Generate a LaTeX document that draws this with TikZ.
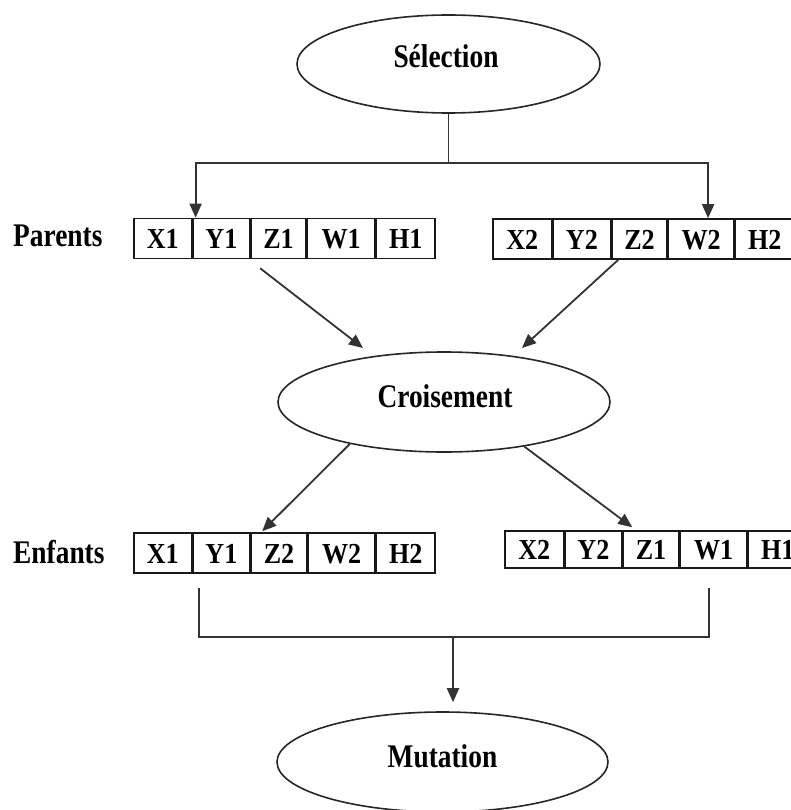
\documentclass[tikz,border=0pt]{standalone}
\usepackage{fontspec}
\setmainfont{Liberation Serif}
\newfontfamily\lblfont{Liberation Serif}[FakeStretch=0.83]
\newfontfamily\cellfont{Liberation Serif}[FakeStretch=0.9]
\usetikzlibrary{shapes.geometric,arrows.meta}
\begin{document}
\begin{tikzpicture}[x=1pt,y=-1pt,
  ln/.style={line width=1.8pt, draw=black!80},
  arr/.style={ln, -{Triangle[length=14pt,width=12pt]}},
  ell/.style={ellipse, draw=black!85, line width=1.6pt, inner sep=0pt},
  ttl/.style={font=\lblfont\bfseries\fontsize{33}{36}\selectfont, anchor=base, inner sep=0pt},
  side/.style={ttl, anchor=base west},
  cell/.style={draw=black!90, line width=1.6pt, rectangle, minimum width=#1, minimum height=40pt,
    inner sep=0pt, anchor=west, font=\cellfont\bfseries\fontsize{29}{32}\selectfont, text height=20pt, text depth=0pt},
  cellb/.style={cell=#1, minimum height=37pt},
]
\useasboundingbox (0,0) rectangle (790,810);

% ellipses
\node[ell, minimum width=303pt, minimum height=98pt] (sel) at (448.5,64) {};
\node[ttl] (selt) at (446,68) {Sélection};
\node[ell, minimum width=332pt, minimum height=100pt] (cro) at (444,402) {};
\node[ttl] (crot) at (445,407) {Croisement};
\node[ell, minimum width=331pt, minimum height=100pt] (mut) at (442.5,762) {};
\node[ttl] (mutt) at (442.5,767) {Mutation};

% side labels
\node[side] (par) at (13,247) {Parents};
\node[side] (enf) at (13,563) {Enfants};

% parents left
\node[cell=58pt] (pa1) at (133,238.5) {X1};
\node[cell=56pt] (pa2) at (pa1.east) {Y1};
\node[cell=55pt] (pa3) at (pa2.east) {Z1};
\node[cell=67pt] (pa4) at (pa3.east) {W1};
\node[cell=59pt] (pa5) at (pa4.east) {H1};
% parents right
\node[cell=59pt] (pb1) at (492,239) {X2};
\node[cell=57pt] (pb2) at (pb1.east) {Y2};
\node[cell=55pt] (pb3) at (pb2.east) {Z2};
\node[cell=65pt] (pb4) at (pb3.east) {W2};
\node[cell=59pt] (pb5) at (pb4.east) {H2};
% children left
\node[cell=58pt] (pe1) at (133,553) {X1};
\node[cell=56pt] (pe2) at (pe1.east) {Y1};
\node[cell=56pt] (pe3) at (pe2.east) {Z2};
\node[cell=66pt] (pe4) at (pe3.east) {W2};
\node[cell=59pt] (pe5) at (pe4.east) {H2};
% children right
\node[cellb=59pt] (pf1) at (504,549.5) {X2};
\node[cellb=56pt] (pf2) at (pf1.east) {Y2};
\node[cellb=56pt] (pf3) at (pf2.east) {Z1};
\node[cellb=66pt] (pf4) at (pf3.east) {W1};
\node[cellb=59pt] (pf5) at (pf4.east) {H1};

% selection to parents
\draw[ln] (sel.south) -- ++(0,49) coordinate (j1);
\draw[arr] (j1) -| ([xshift=3pt]pa2.north west);
\draw[arr] (j1) -| ([xshift=7pt]pb4.north);

% parents to croisement
\coordinate (c1) at (363,348);
\coordinate (c2) at (522,348);
\draw[arr] ([shift={(10,9)}]pa3.south west) -- (c1);
\draw[arr] ([xshift=7pt]pb3.south west) -- (c2);

% croisement to children
\draw[arr] (cro.204) -- ([shift={(12,-1)}]pe3.north west);
\draw[arr] (cro.331) -- ([shift={(10,-3)}]pf3.north west);

% children to mutation
\coordinate (k0) at (453,637);
\draw[ln] ([shift={(6,14)}]pe2.south west) |- (k0) -| ([shift={(29,19)}]pf4.south west);
\draw[arr] (k0) -- ([yshift=9pt]k0 |- mut.north);
\end{tikzpicture}
\end{document}
